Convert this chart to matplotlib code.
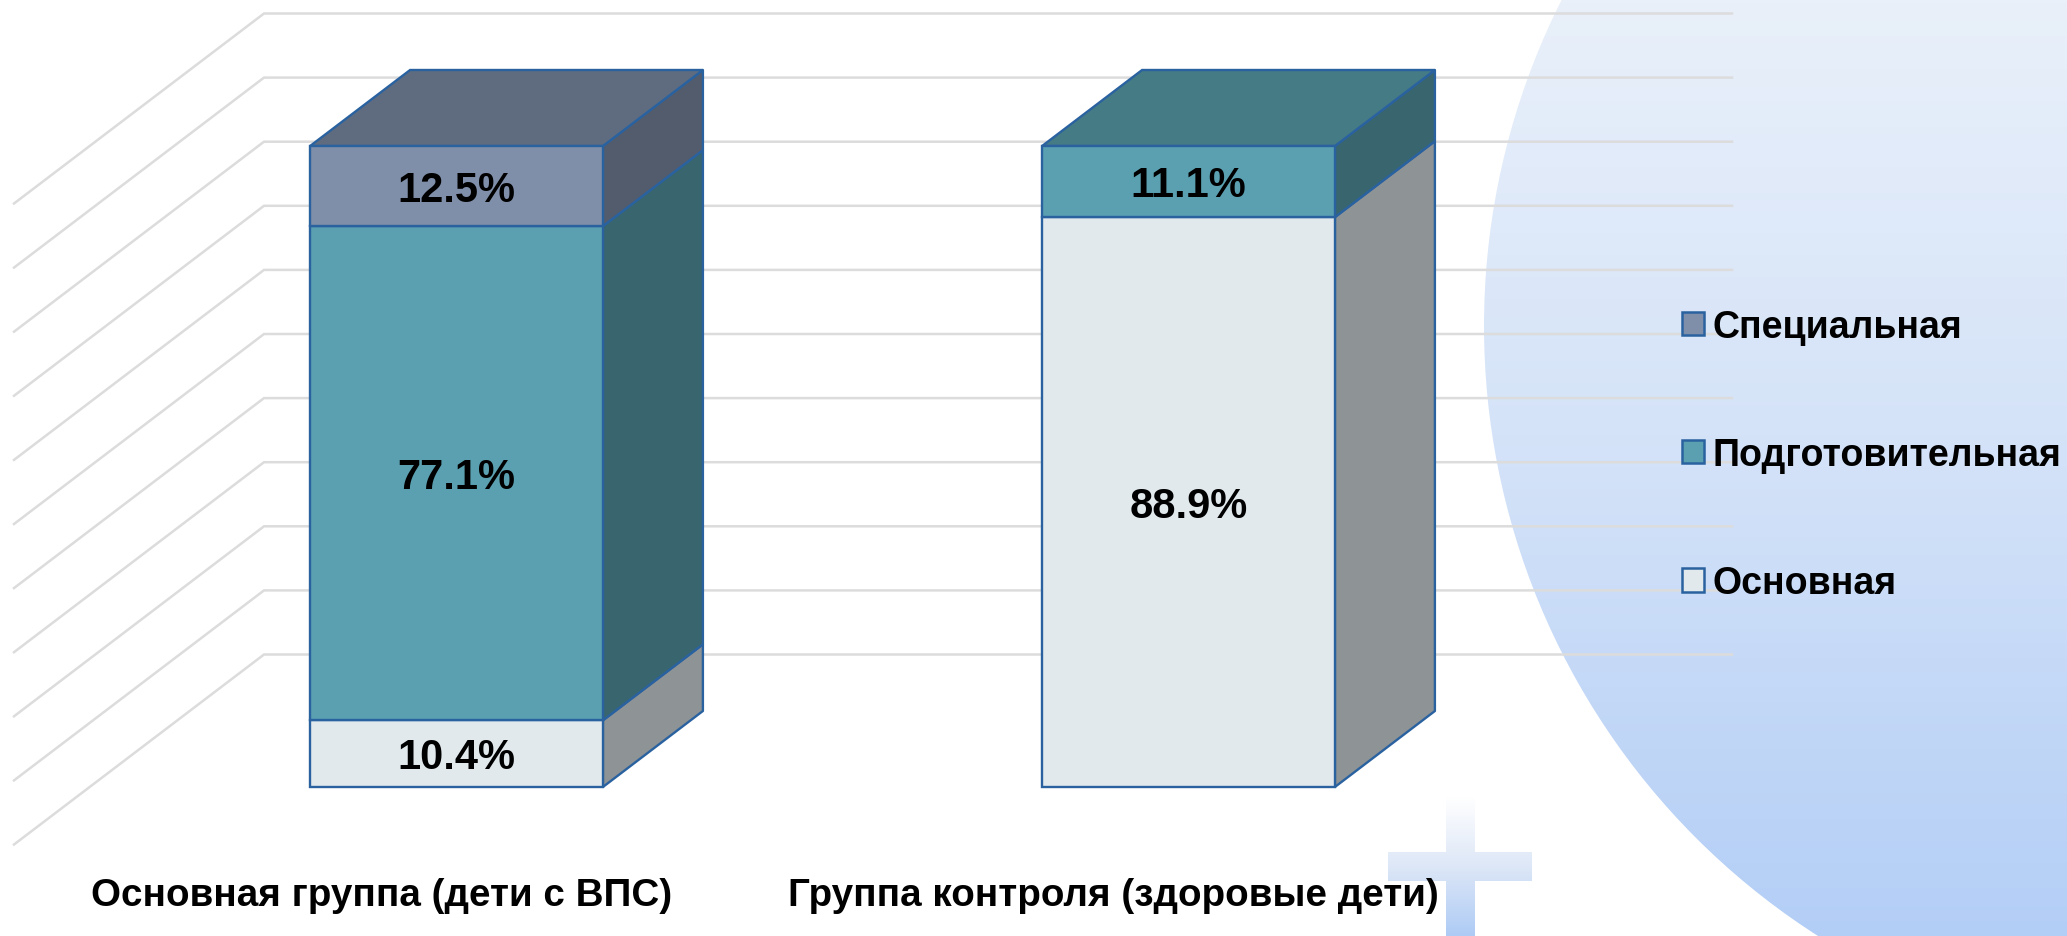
import numpy as np
import matplotlib
matplotlib.use('Agg')
import matplotlib.pyplot as plt
from matplotlib.colors import LinearSegmentedColormap
from matplotlib.patches import Circle, Patch, PathPatch, Polygon
from matplotlib.path import Path

plt.rcParams['font.family'] = ['Liberation Sans', 'DejaVu Sans']

groups = ['Основная группа (дети с ВПС)', 'Группа контроля (здоровые дети)']
series = ['Основная', 'Подготовительная', 'Специальная']
base = [10.4, 88.9]
prep = [77.1, 11.1]
special = [12.5, 0.0]
gridlines = [0, 10, 20, 30, 40, 50, 60, 70, 80, 90, 100]

front_colors = ['#e1e9ed', '#5aa0b0', '#7f8ea9']
side_colors = ['#8e9395', '#39666e', '#535c6c']
top_colors = ['#b4babd', '#457b85', '#5f6c80']
edge = '#2a62a0'
grid_color = '#dcdcdc'

W, H = 2067, 937
fig = plt.figure(figsize=(W / 100, H / 100), dpi=100)

# background shapes, in pixels
bg = fig.add_axes([0, 0, 1, 1], zorder=0)
bg.set_xlim(0, W)
bg.set_ylim(H, 0)
bg.axis('off')

blue = LinearSegmentedColormap.from_list('blue', ['#e9f0fa', '#d3e2f8', '#b3cef6'])
grad = np.linspace(0, 1, 256).reshape(-1, 1)
im = bg.imshow(grad, cmap=blue, extent=(1400, W, H, 0), aspect='auto')
circle = Circle((2208, 327), 724, transform=bg.transData, fc='none', ec='none')
bg.add_patch(circle)
im.set_clip_path(circle)

plus_cmap = LinearSegmentedColormap.from_list('plus', ['#ffffff', '#dde7f7', '#aecbf5'])
im2 = bg.imshow(grad, cmap=plus_cmap, extent=(1388, 1532, H, 798), aspect='auto')
verts = [(1446, 798), (1475, 798), (1475, 853), (1532, 853), (1532, 882), (1475, 882),
         (1475, 937), (1446, 937), (1446, 882), (1388, 882), (1388, 853), (1446, 853), (1446, 798)]
codes = [Path.MOVETO] + [Path.LINETO] * 11 + [Path.CLOSEPOLY]
plus = PathPatch(Path(verts, codes), transform=bg.transData, fc='none', ec='none')
bg.add_patch(plus)
im2.set_clip_path(plus)
bg.set_xlim(0, W)
bg.set_ylim(H, 0)

# chart: x in category units, y in percent
yscale = 6.41
ax = fig.add_axes([0, 0, 1, 1], zorder=1)
ax.patch.set_alpha(0)
ax.axis('off')
ax.set_xlim(-456.5 / 732, (W - 456.5) / 732)
ax.set_ylim((788 - H) / yscale, 788 / yscale)

bar_w = 0.4
dx, dy = 100 / 732, 76 / yscale

wall_x0 = (264 - 456.5) / 732
wall_x1 = (1732 - 456.5) / 732
wall_dy = 132.5 / yscale
diag_dx, diag_dy = -250 / 732, -190 / yscale
for g in gridlines:
    y = g + wall_dy
    ax.plot([wall_x0 + diag_dx, wall_x0, wall_x1], [y + diag_dy, y, y],
            color=grid_color, lw=1.8, zorder=1, solid_joinstyle='miter')

stack = np.array([base, prep, special])
for i in range(len(groups)):
    left = i - bar_w / 2
    right = i + bar_w / 2
    bottom = 0
    last = 0
    for s in range(len(series)):
        v = stack[s][i]
        if v == 0:
            continue
        top = bottom + v
        ax.add_patch(Polygon([(right, bottom), (right + dx, bottom + dy), (right + dx, top + dy), (right, top)],
                             fc=side_colors[s], ec=edge, lw=1.7, zorder=3, joinstyle='round'))
        ax.add_patch(Polygon([(left, bottom), (right, bottom), (right, top), (left, top)],
                             fc=front_colors[s], ec=edge, lw=1.7, zorder=4))
        ax.text(i, bottom + v / 2 + 1 / yscale, f'{v:.1f}%', ha='center', va='center_baseline',
                fontsize=30, fontweight='bold', color='black', zorder=5)
        bottom = top
        last = s
    ax.add_patch(Polygon([(left, bottom), (right, bottom), (right + dx, bottom + dy), (left + dx, bottom + dy)],
                         fc=top_colors[last], ec=edge, lw=1.7, zorder=3))
    ax.text(i - 75 / 732, -108.5 / yscale, groups[i], ha='center', va='center',
            fontsize=27.8, fontweight='bold', color='black', zorder=5)

handles = [Patch(fc=front_colors[s], ec=edge, lw=1.8) for s in range(len(series))][::-1]
leg = ax.legend(handles, series[::-1], loc='center left', bbox_to_anchor=(1682 / W, 1 - 456 / H),
                frameon=False, prop={'size': 27, 'weight': 'bold'}, handlelength=0.58,
                handleheight=0.58, handletextpad=0.24, labelspacing=2.46, borderpad=0, borderaxespad=0)
leg.set_zorder(6)

fig.savefig('out.png', dpi=100)
